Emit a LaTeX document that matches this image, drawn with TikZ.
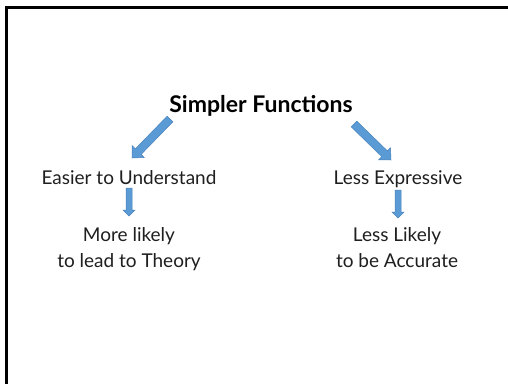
\documentclass[tikz,border=0pt]{standalone}
\usepackage{fontspec}
\setmainfont{Lato}
\usetikzlibrary{calc}
\definecolor{arrowblue}{HTML}{5B9BD5}
\definecolor{arrowedge}{HTML}{4A83BD}
\tikzset{
  lbl/.style={font=\fontsize{19}{25.5}\selectfont, inner sep=0pt, anchor=base, align=center, text=black!88},
  ttl/.style={font=\fontsize{23}{26}\selectfont\bfseries, inner sep=0pt, anchor=base},
  blk/.style={fill=arrowblue, draw=arrowedge, line width=0.5pt, line join=miter},
  frame/.style={line width=2.5pt, black}
}
% block arrow: #1 tail, #2 tip, #3 shaft half-width, #4 head half-width, #5 head length
\newcommand{\blockarr}[5]{%
  \coordinate (#1-#2-neck) at ($(#2)!#5!(#1)$);
  \filldraw[blk] ($(#1)!#3!90:(#2)$) -- ($(#1-#2-neck)!#3!90:(#2)$) -- ($(#1-#2-neck)!#4!90:(#2)$)
     -- (#2) -- ($(#1-#2-neck)!#4!-90:(#2)$) -- ($(#1-#2-neck)!#3!-90:(#2)$) -- ($(#1)!#3!-90:(#2)$) -- cycle;
}
\begin{document}
\begin{tikzpicture}[x=1pt,y=-1pt]
\useasboundingbox (0,0) rectangle (508,383);
\fill[white] (0,0) rectangle (508,383);
\begin{scope}
\clip (0,0) rectangle (508,383);
\draw[frame] (6.25,390) -- (6.25,7.5) -- (520,7.5);
\end{scope}

\node[ttl] (sf) at (261,112) {Simpler Functions};
\node[lbl] (eu) at (129,184) {Easier to Understand};
\node[lbl] (le) at (398,184) {Less Expressive};
\node[lbl] (ml) at (129,267) {More likely\\to lead to Theory};
\node[lbl] (ll) at (397,267) {Less Likely\\to be Accurate};

\coordinate (a1) at (170,119);
\coordinate (b1) at (132,158);
\coordinate (a2) at (354,124);
\coordinate (b2) at (391,160);
\coordinate (a3) at (129,188);
\coordinate (b3) at (129,216);
\coordinate (a4) at (398,190);
\coordinate (b4) at (398,218);

\blockarr{a1}{b1}{4pt}{8.5pt}{9pt}
\blockarr{a2}{b2}{4pt}{8.5pt}{9pt}
\blockarr{a3}{b3}{3pt}{6pt}{6pt}
\blockarr{a4}{b4}{3pt}{6pt}{6pt}
\end{tikzpicture}
\end{document}
